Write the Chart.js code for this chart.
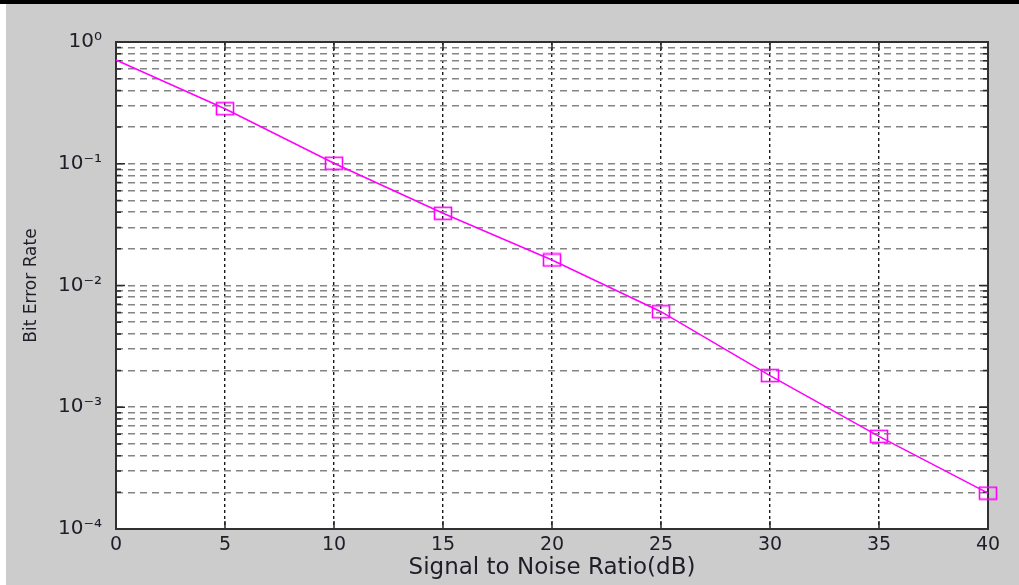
<!DOCTYPE html>
<html><head><meta charset="utf-8">
<script src="https://cdn.jsdelivr.net/npm/chart.js@4"></script>
<style>
html,body{margin:0;padding:0;background:#fff;width:1019px;height:585px;overflow:hidden}
#bar{position:absolute;left:0;top:0;width:1019px;height:4px;background:#000}
#wrap{position:absolute;left:6px;top:4px;width:1013px;height:581px;background:#cccccc}
canvas{display:block}
</style></head><body>
<div id="bar"></div>
<div id="wrap"><canvas id="c" width="1013" height="581"></canvas></div>
<script>
// ---- data ----
const snrDb = [0, 5, 10, 15, 20, 25, 30, 35, 40];
const bitErrorRate = [0.711, 0.283, 0.101, 0.0392, 0.0162, 0.00609, 0.00182, 0.000577, 0.000197];
const markerShown = [false, true, true, true, true, true, true, true, true];
const xTickValues = [0, 5, 10, 15, 20, 25, 30, 35, 40];
const yDecadeExponents = [-4, -3, -2, -1, 0];
const yMinorMultipliers = [2, 3, 4, 5, 6, 7, 8, 9];
const xTitle = 'Signal to Noise Ratio(dB)';
const yTitle = 'Bit Error Rate';

const SUP = {'0':'\u2070','1':'\u00B9','2':'\u00B2','3':'\u00B3','4':'\u2074','5':'\u2075','6':'\u2076','7':'\u2077','8':'\u2078','9':'\u2079','-':'\u207B'};
function decadeLabel(e){ return '10' + String(e).split('').map(c => SUP[c]).join(''); }

const yTickValues = [];
yDecadeExponents.forEach(e => {
  yTickValues.push(Math.pow(10, e));
  if (e < 0) yMinorMultipliers.forEach(m => yTickValues.push(m * Math.pow(10, e)));
});
yTickValues.sort((a, b) => a - b);
function isDecade(v){ const l = Math.log10(v); return Math.abs(l - Math.round(l)) < 1e-9; }

// rectangle marker (MATLAB style square marker)
const marker = document.createElement('canvas');
marker.width = 20; marker.height = 15;
(function(){
  const g = marker.getContext('2d');
  g.strokeStyle = '#ff00ff'; g.lineWidth = 1.6;
  g.strokeRect(1.5, 1.5, 17, 12);
})();

const MAGENTA = '#ff00ff';
const TEXT = '#1e1e28';
const FONT = "'DejaVu Sans', 'Liberation Sans', Arial, sans-serif";

const framePlugin = {
  id: 'frame',
  beforeDraw(chart){
    const {ctx, chartArea: a} = chart;
    ctx.save();
    ctx.fillStyle = '#ffffff';
    ctx.fillRect(a.left, a.top, a.right - a.left, a.bottom - a.top);
    ctx.restore();
  },
  beforeDatasetsDraw(chart){
    const {ctx, chartArea: a, scales} = chart;
    ctx.save();
    ctx.strokeStyle = '#2a2a2a';
    ctx.lineWidth = 1.5;
    ctx.beginPath();
    scales.x.ticks.forEach(t => {
      const px = scales.x.getPixelForValue(t.value);
      ctx.moveTo(px, a.bottom); ctx.lineTo(px, a.bottom - 8);
      ctx.moveTo(px, a.top); ctx.lineTo(px, a.top + 8);
    });
    scales.y.ticks.forEach(t => {
      const py = scales.y.getPixelForValue(t.value);
      const len = isDecade(t.value) ? 9 : 5;
      ctx.moveTo(a.left, py); ctx.lineTo(a.left + len, py);
      ctx.moveTo(a.right, py); ctx.lineTo(a.right - len, py);
    });
    ctx.stroke();
    ctx.lineWidth = 2;
    ctx.strokeStyle = '#303030';
    ctx.strokeRect(a.left, a.top, a.right - a.left, a.bottom - a.top);
    ctx.restore();
  }
};

new Chart(document.getElementById('c'), {
  type: 'line',
  data: {
    datasets: [{
      label: 'BER',
      data: snrDb.map((x, i) => ({x: x, y: bitErrorRate[i]})),
      borderColor: MAGENTA,
      backgroundColor: MAGENTA,
      borderWidth: 1.5,
      tension: 0,
      fill: false,
      clip: false,
      pointStyle: marker,
      pointRadius: markerShown.map(s => s ? 8 : 0),
      pointHoverRadius: markerShown.map(s => s ? 8 : 0)
    }]
  },
  plugins: [framePlugin],
  options: {
    responsive: false,
    animation: false,
    devicePixelRatio: 1,
    layout: {padding: {left: 0, right: 31, top: 38, bottom: 0}},
    plugins: {legend: {display: false}, tooltip: {enabled: false}},
    scales: {
      x: {
        type: 'linear', min: 0, max: 40,
        afterBuildTicks(scale){ scale.ticks = xTickValues.map(v => ({value: v})); },
        afterFit(scale){ scale.height = 56; },
        ticks: {font: {family: FONT, size: 19}, color: TEXT, padding: 5, autoSkip: false, maxRotation: 0},
        grid: {color: '#1a1a1a', lineWidth: 1.4, drawTicks: false},
        border: {display: false, dash: [3, 3]},
        title: {display: true, text: xTitle, font: {family: FONT, size: 23}, color: TEXT, padding: {top: 0, bottom: 3}}
      },
      y: {
        type: 'logarithmic', min: 1e-4, max: 1,
        afterBuildTicks(scale){ scale.ticks = yTickValues.map(v => ({value: v, major: isDecade(v)})); },
        afterFit(scale){ scale.width = 110; },
        ticks: {
          font: {family: FONT, size: 20}, color: TEXT, padding: 14, autoSkip: false,
          callback(v){ return isDecade(v) ? decadeLabel(Math.round(Math.log10(v))) : ''; }
        },
        grid: {color: '#858585', lineWidth: 1.6, drawTicks: false},
        border: {display: false, dash: [7, 5]},
        title: {display: true, text: yTitle, font: {family: FONT, size: 17}, color: TEXT, padding: {top: 15, bottom: 0}}
      }
    }
  }
});
</script>
</body></html>
